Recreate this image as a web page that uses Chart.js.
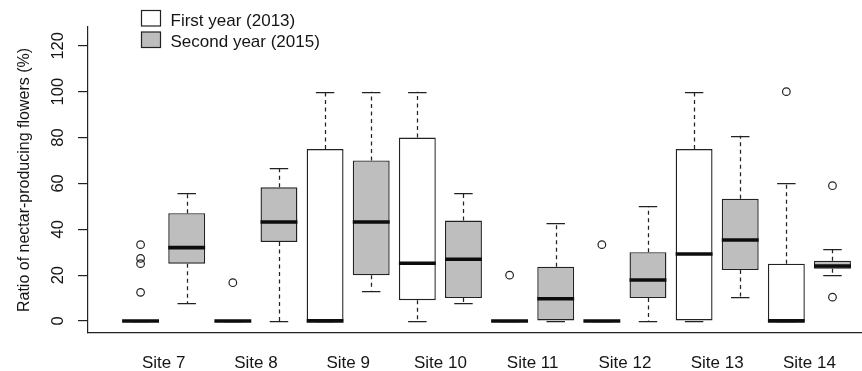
<!DOCTYPE html>
<html>
<head>
<meta charset="utf-8">
<script src="https://cdn.jsdelivr.net/npm/chart.js@4.4.1/dist/chart.umd.min.js"></script>
<style>
  html, body { margin: 0; padding: 0; background: #fff; }
  #wrap { position: relative; width: 862px; height: 371px; }
</style>
</head>
<body>
<div id="wrap"><canvas id="c" width="862" height="371"></canvas></div>
<script>
// Sites on the x axis
const sites = ['Site 7', 'Site 8', 'Site 9', 'Site 10', 'Site 11', 'Site 12', 'Site 13', 'Site 14'];

// Five-number summaries, first year (2013)
const min2013 = [0, 0, 0, 0, 0, 0, 0, 0];
const q1_2013 = [0, 0, 0, 9.1, 0, 0, 0, 0];
const med2013 = [0, 0, 0, 25.2, 0, 0, 29.2, 0];
const q3_2013 = [0, 0, 75, 80, 0, 0, 75, 25];
const max2013 = [0, 0, 100, 100, 0, 0, 100, 60];
const out2013 = [[33.3, 27.3, 25, 12.5], [16.7], [], [], [20], [33.3], [], [100]];

// Five-number summaries, second year (2015)
const min2015 = [7.7, 0, 13.3, 8, 0, 0, 10.6, 20];
const q1_2015 = [25, 34.5, 20, 10, 0, 10, 22.2, 22.8];
const med2015 = [32, 43.2, 43.2, 26.9, 9.7, 17.9, 35.3, 24];
const q3_2015 = [47, 58.3, 70, 43.8, 23.7, 30, 53.3, 26.3];
const max2015 = [55.6, 66.7, 100, 55.6, 42.9, 50, 80.8, 31.5];
const out2015 = [[], [], [], [], [], [], [], [59, 10.4]];

// y axis tick values
const yTicks = [0, 20, 40, 60, 80, 100, 120];

const FONT = '"Liberation Sans", Arial, Helvetica, sans-serif';
const INK = '#151515';
const LINE = '#222222';

// box positions: each site gets two slots, 2013 then 2015
const pos13 = sites.map((_, i) => 2 * i + 1);
const pos15 = sites.map((_, i) => 2 * i + 2);

const summaries = [
  { min: min2013, med: med2013, max: max2013 },
  { min: min2015, med: med2015, max: max2015 }
];

const outlierPoints = [];
out2013.forEach((vals, i) => vals.forEach(v => outlierPoints.push({ x: pos13[i], y: v })));
out2015.forEach((vals, i) => vals.forEach(v => outlierPoints.push({ x: pos15[i], y: v })));

// whiskers, staples and medians on top of the boxes
const boxExtras = {
  id: 'boxExtras',
  afterDatasetsDraw(chart) {
    const ctx = chart.ctx;
    const y = chart.scales.y;
    [0, 1].forEach(di => {
      const meta = chart.getDatasetMeta(di);
      const ds = chart.data.datasets[di];
      const s = summaries[di];
      meta.data.forEach((bar, i) => {
        const cx = bar.x;
        const hw = bar.width / 2;
        const q1 = ds.data[i].y[0], q3 = ds.data[i].y[1];
        const pMin = y.getPixelForValue(s.min[i]);
        const pMax = y.getPixelForValue(s.max[i]);
        const pQ1 = y.getPixelForValue(q1);
        const pQ3 = y.getPixelForValue(q3);
        const wx = Math.round(cx) + 0.5;
        ctx.save();
        ctx.strokeStyle = LINE;
        ctx.lineWidth = 1.25;
        ctx.setLineDash([4, 3.5]);
        ctx.beginPath();
        ctx.moveTo(wx, pQ3); ctx.lineTo(wx, pMax);
        ctx.moveTo(wx, pQ1); ctx.lineTo(wx, pMin);
        ctx.stroke();
        ctx.setLineDash([]);
        ctx.beginPath();
        ctx.moveTo(cx - hw / 2, Math.round(pMax) + 0.5); ctx.lineTo(cx + hw / 2, Math.round(pMax) + 0.5);
        ctx.moveTo(cx - hw / 2, Math.round(pMin) + 0.5); ctx.lineTo(cx + hw / 2, Math.round(pMin) + 0.5);
        ctx.stroke();
        // median
        ctx.strokeStyle = '#0d0d0d';
        ctx.lineWidth = 3.6;
        ctx.lineCap = 'butt';
        const pMed = y.getPixelForValue(s.med[i]);
        ctx.beginPath();
        ctx.moveTo(cx - hw, pMed); ctx.lineTo(cx + hw, pMed);
        ctx.stroke();
        ctx.restore();
      });
    });
  },
  afterDraw(chart) {
    const ctx = chart.ctx;
    const y = chart.scales.y;
    ctx.save();
    // rotated y tick labels
    ctx.fillStyle = INK;
    ctx.font = '16.5px ' + FONT;
    ctx.textAlign = 'center';
    ctx.textBaseline = 'alphabetic';
    yTicks.forEach(v => {
      ctx.save();
      ctx.translate(63.3, y.getPixelForValue(v));
      ctx.rotate(-Math.PI / 2);
      ctx.fillText(String(v), 0, 0);
      ctx.restore();
    });
    // legend
    const rows = [{ top: 10.5, base: 26 }, { top: 32, base: 46.5 }];
    ctx.font = '17px ' + FONT;
    ctx.textAlign = 'left';
    [0, 1].forEach(di => {
      const ds = chart.data.datasets[di];
      const r = rows[di];
      ctx.fillStyle = ds.backgroundColor;
      ctx.fillRect(141.5, r.top, 19, 15.5);
      ctx.strokeStyle = LINE;
      ctx.lineWidth = 1.2;
      ctx.strokeRect(141.5, r.top, 19, 15.5);
      ctx.fillStyle = INK;
      ctx.fillText(ds.label, 170.5, r.base);
    });
    ctx.restore();
  }
};

new Chart(document.getElementById('c'), {
  type: 'bar',
  data: {
    datasets: [
      {
        label: 'First year (2013)',
        data: sites.map((_, i) => ({ x: pos13[i], y: [q1_2013[i], q3_2013[i]] })),
        backgroundColor: '#ffffff',
        borderColor: LINE,
        borderWidth: 1.4,
        borderSkipped: false,
        barPercentage: 0.8,
        categoryPercentage: 1,
        grouped: false
      },
      {
        label: 'Second year (2015)',
        data: sites.map((_, i) => ({ x: pos15[i], y: [q1_2015[i], q3_2015[i]] })),
        backgroundColor: '#bebebe',
        borderColor: LINE,
        borderWidth: 1.4,
        borderSkipped: false,
        barPercentage: 0.8,
        categoryPercentage: 1,
        grouped: false
      },
      {
        type: 'scatter',
        label: 'outliers',
        data: outlierPoints,
        pointRadius: 3.8,
        pointBackgroundColor: 'rgba(255,255,255,0)',
        pointBorderColor: LINE,
        pointBorderWidth: 1.2
      }
    ]
  },
  options: {
    responsive: false,
    animation: false,
    events: [],
    layout: { autoPadding: false, padding: { top: 27, left: 0, right: 0, bottom: 0 } },
    plugins: { legend: { display: false }, tooltip: { enabled: false } },
    scales: {
      x: {
        type: 'linear',
        offset: false,
        min: -0.14,
        max: 16.64,
        afterBuildTicks: s => { s.ticks = sites.map((_, i) => ({ value: 2 * i + 1.5 })); },
        afterFit: s => { s.height = 38; s.paddingLeft = 0; s.paddingRight = 0; },
        ticks: {
          callback: (v, i) => sites[i],
          autoSkip: false,
          maxRotation: 0,
          minRotation: 0,
          padding: 12,
          color: INK,
          font: { family: FONT, size: 17 }
        },
        grid: { display: false, offset: false },
        border: { display: true, color: LINE, width: 1.2 }
      },
      y: {
        min: -5.23,
        max: 128.2,
        afterBuildTicks: s => { s.ticks = yTicks.map(v => ({ value: v })); },
        afterFit: s => { s.width = 88; s.paddingTop = 0; s.paddingBottom = 0; },
        ticks: { display: false },
        grid: { drawOnChartArea: false, drawTicks: true, tickLength: 10, color: LINE, lineWidth: 1.2 },
        border: { display: true, color: LINE, width: 1.2 },
        title: {
          display: true,
          text: 'Ratio of nectar-producing flowers (%)',
          color: INK,
          font: { family: FONT, size: 16 },
          padding: { top: 15, bottom: 0 }
        }
      }
    }
  },
  plugins: [boxExtras]
});
</script>
</body>
</html>
